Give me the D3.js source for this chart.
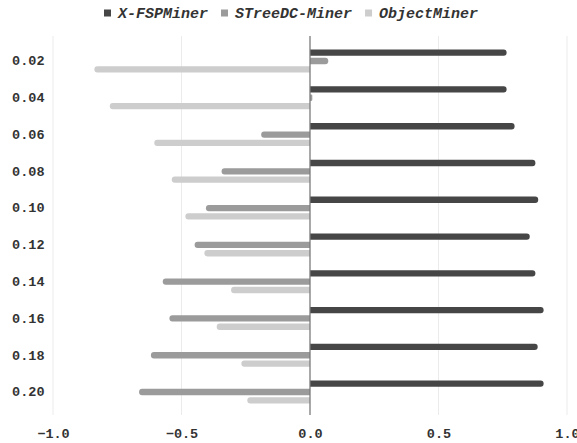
<!DOCTYPE html>
<html><head><meta charset="utf-8">
<script src="https://cdn.jsdelivr.net/npm/d3@7"></script>
<style>body{margin:0;background:#fff}svg{display:block}</style>
</head><body>
<svg id="c" width="577" height="443"></svg>
<script>
const categories = ["0.02","0.04","0.06","0.08","0.10","0.12","0.14","0.16","0.18","0.20"];
const seriesNames = ["X-FSPMiner","STreeDC-Miner","ObjectMiner"];
const xfsp   = [0.765, 0.765, 0.796, 0.877, 0.888, 0.855, 0.877, 0.909, 0.886, 0.909];
const stree  = [0.071, 0.009, -0.19, -0.344, -0.405, -0.449, -0.573, -0.547, -0.619, -0.665];
const objm   = [-0.839, -0.779, -0.606, -0.538, -0.485, -0.411, -0.307, -0.363, -0.267, -0.244];
const xTicks = [-1.0, -0.5, 0.0, 0.5, 1.0];
const colors = ["#464646", "#9b9b9b", "#cdcdcd"];
const seriesValues = [xfsp, stree, objm];

const svg = d3.select("#c");
const font = "'Liberation Mono', 'Courier New', monospace";
const x = d3.scaleLinear().domain([-1, 1]).range([53, 567]);
const y = d3.scaleBand().domain(categories).range([42.6, 410.4]).paddingInner(0.32).paddingOuter(0.16);
const y1 = d3.scaleBand().domain(seriesNames).range([0, y.bandwidth()]).paddingInner(0.24).paddingOuter(0.12);
const plotTop = 36, plotBottom = 415;

// gridlines
svg.append("g").selectAll("line").data(xTicks.filter(t => t !== 0)).join("line")
  .attr("x1", d => x(d)).attr("x2", d => x(d)).attr("y1", plotTop).attr("y2", plotBottom)
  .attr("stroke", "#ebebeb").attr("stroke-width", 1);

// bars
function barPath(x0, x1, yTop, h, r) {
  const dir = x1 >= x0 ? 1 : -1;
  const w = Math.abs(x1 - x0);
  r = Math.min(r, w / 2, h / 2);
  if (w < 0.01) return "";
  const xe = x1;
  return `M${x0},${yTop} L${xe - dir * r},${yTop} Q${xe},${yTop} ${xe},${yTop + r} L${xe},${yTop + h - r} Q${xe},${yTop + h} ${xe - dir * r},${yTop + h} L${x0},${yTop + h} Z`;
}
const data = [];
categories.forEach((c, i) => seriesNames.forEach((s, j) => data.push({c, s, j, v: seriesValues[j][i]})));
svg.append("g").selectAll("path").data(data).join("path")
  .attr("d", d => barPath(x(0), x(d.v), y(d.c) + y1(d.s), y1.bandwidth(), 3))
  .attr("fill", d => colors[d.j]);

// zero line
svg.append("line").attr("x1", x(0)).attr("x2", x(0)).attr("y1", plotTop).attr("y2", plotBottom)
  .attr("stroke", "#7a7a7a").attr("stroke-width", 1.3);

// y axis labels
const yAxis = d3.axisLeft(y).tickSize(0).tickPadding(0);
const gy = svg.append("g").attr("transform", "translate(44.5,0)").call(yAxis);
gy.select(".domain").remove();
gy.selectAll("text").attr("font-family", font).attr("font-weight", "bold").attr("font-size", 13.5).attr("fill", "#333");

// x axis labels
const xAxis = d3.axisBottom(x).tickValues(xTicks).tickFormat(d3.format(".1f")).tickSize(0).tickPadding(0);
const gx = svg.append("g").attr("transform", "translate(0,428)").call(xAxis);
gx.select(".domain").remove();
gx.selectAll("text").attr("font-family", font).attr("font-weight", "bold").attr("font-size", 13.5).attr("fill", "#333");

// legend
const leg = svg.append("g").attr("transform", "translate(0,13)");
let cx = 104;
seriesNames.forEach((s, j) => {
  leg.append("rect").attr("x", cx).attr("y", -3.5).attr("width", 7).attr("height", 7).attr("fill", colors[j]);
  const t = leg.append("text").attr("x", cx + 14).attr("y", 0).attr("dy", "0.35em")
    .attr("font-family", font).attr("font-weight", "bold").attr("font-style", "italic")
    .attr("font-size", 15).attr("fill", "#333").text(s);
  cx += 14 + t.node().getComputedTextLength() + 13;
});
</script>
</body></html>
